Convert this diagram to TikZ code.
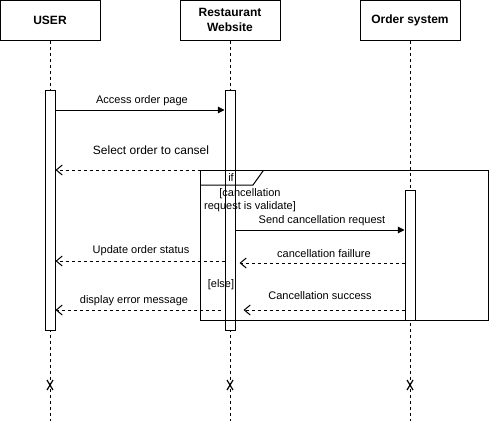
\documentclass[tikz,border=0pt]{standalone}
\usepackage{fontspec}
\setmainfont{Liberation Sans}
\usetikzlibrary{arrows.meta,calc}
\begin{document}
\begin{tikzpicture}[x=0.75pt,y=-0.75pt,
  actor/.style={draw, line width=0.75pt, fill=white, minimum width=75pt, minimum height=30pt, inner sep=0pt, font=\bfseries\fontsize{9}{11}\selectfont, align=center},
  life/.style={line width=0.75pt, dash pattern=on 2.25pt off 2.25pt},
  act/.style={draw, line width=0.75pt, fill=white, minimum width=7.5pt, inner sep=0pt},
  frm/.style={draw, line width=0.75pt},
  lbl/.style={font=\fontsize{8.25}{10}\selectfont, inner sep=0pt, align=center},
  syncmsg/.style={line width=0.75pt, -{Triangle[length=5pt,width=5pt]}},
  retmsg/.style={line width=0.75pt, dash pattern=on 2.25pt off 2.25pt, -{Straight Barb[length=4.5pt,width=7.5pt]}},
  xmark/.style={line width=0.9pt}
]
\useasboundingbox (0,0) rectangle (490,421);
% actors
\node[actor] (user) at (50,20) {USER};
\node[actor] (web) at (230,20) {Restaurant\\Website};
\node[actor] (ord) at (410,20) {Order system};
% lifeline ends
\coordinate (ue) at (50,421);
\coordinate (we) at (230,421);
\coordinate (oe) at (410,421);
\draw[life] (user.south) -- (ue);
\draw[life] (web.south) -- (we);
\draw[life] (ord.south) -- (oe);
% destroy marks
\foreach \n/\xx in {u/50,w/230,o/410}{
  \coordinate (\n x1) at (\xx-3,380);
  \coordinate (\n x2) at (\xx+3,390);
  \coordinate (\n x3) at (\xx+3,380);
  \coordinate (\n x4) at (\xx-3,390);
  \draw[xmark] (\n x1) -- (\n x2);
  \draw[xmark] (\n x3) -- (\n x4);
}
% message levels
\coordinate (m1) at (0,110);
\coordinate (m2) at (0,170);
\coordinate (m3) at (0,230);
\coordinate (m4) at (0,263);
\coordinate (m5) at (0,261);
\coordinate (m6) at (0,310);
% activation bars
\node[act, minimum height=180pt] (ua) at (50,210) {};
\node[act, minimum height=180pt] (wa) at (230,210) {};
% frame
\coordinate (f1) at (200,170);
\coordinate (f2) at (488.5,320);
\draw[frm] (f1) rectangle (f2);
\coordinate (t1) at (263,170);
\coordinate (t2) at (263,171);
\coordinate (t3) at (253,185);
\coordinate (t4) at (200,185);
\draw[frm] (t1) -- (t2) -- (t3) -- (t4);
\node[lbl] (iftxt) at (231,177.5) {if};
\node[act, minimum height=97.5pt] (oa) at (410,255) {};
% messages
\draw[syncmsg] (ua.east |- m1) -- (wa.west |- m1);
\node[lbl] (l1) at (142,101) {Access order page};
\draw[retmsg] (wa.west |- m2) -- (ua.east |- m2);
\node[lbl, font=\fontsize{9}{11}\selectfont] (l2) at (151,150) {Select order to cansel};
\node[lbl, font=\fontsize{8.25}{9.75}\selectfont] (cond) at (250,200.5) {[cancellation\\request is validate]};
\draw[syncmsg] (wa.east |- m3) -- (oa.west |- m3);
\node[lbl] (l3) at (322,221) {Send cancellation request};
\draw[retmsg] (oa.west |- m4) -- ($(wa.east |- m4)+(4,0)$);
\node[lbl] (l4) at (324,254) {cancellation faillure};
\draw[retmsg] (wa.west |- m5) -- (ua.east |- m5);
\node[lbl] (l5) at (141,251) {Update order status};
\node[lbl] (els) at (221,285) {[else]};
\draw[retmsg] (oa.west |- m6) -- ($(wa.east |- m6)+(8,0)$);
\node[lbl] (l6) at (320,296) {Cancellation success};
\draw[retmsg] ($(wa.west |- m6)+(-4,0)$) -- (ua.east |- m6);
\node[lbl] (l7) at (134,301) {display error message};
\end{tikzpicture}
\end{document}
